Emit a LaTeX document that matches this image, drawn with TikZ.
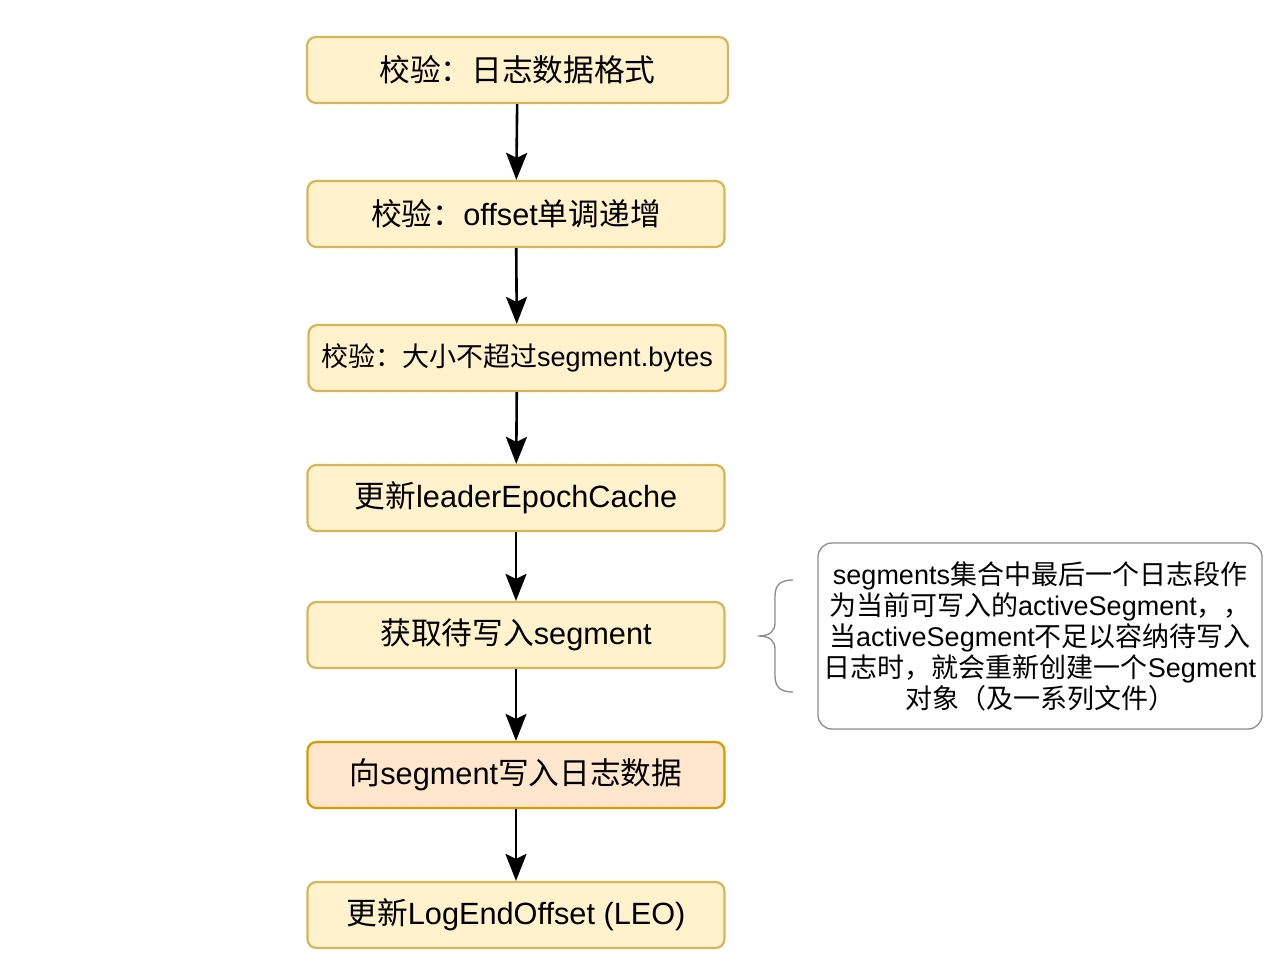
\documentclass[tikz,border=0pt]{standalone}
\usepackage{fontspec}
\setmainfont{Liberation Sans}
\newfontfamily\cjk{Noto Sans CJK SC}
\usepackage{xcolor}
\usetikzlibrary{arrows.meta,positioning}

\definecolor{stepfill}{HTML}{FFF2CC}
\definecolor{stepline}{HTML}{D6B656}
\definecolor{writefill}{HTML}{FFE6CC}
\definecolor{writeline}{HTML}{D79B00}
\definecolor{noteline}{HTML}{8C8C8C}

\begin{document}
\begin{tikzpicture}[x=1pt, y=-1pt,
    stepbox/.style={draw=stepline, fill=stepfill, line width=2.2pt, rounded corners=9pt,
        minimum width=417pt, minimum height=66pt, inner sep=0pt,
        font=\fontsize{30.7}{35}\selectfont},
    writebox/.style={stepbox, draw=writeline, fill=writefill},
    notebox/.style={draw=noteline, fill=white, line width=1.3pt, rounded corners=14pt,
        minimum width=444pt, minimum height=186pt, inner sep=0pt, align=center,
        font=\fontsize{27}{31}\selectfont},
    flow/.style={-{Stealth[length=27pt, width=21pt, inset=5pt]}, line width=2.6pt, black}]

    % canvas
    \fill[white] (0,0) rectangle (1280,979);
    \useasboundingbox (0,0) rectangle (1280,979);

    % steps
    \node[stepbox, minimum width=421pt] (fmt) at (517.5,70) {\cjk 校验：日志数据格式};
    \node[stepbox] (mono) at (516,214) {{\cjk 校验：}offset{\cjk 单调递增}};
    \node[stepbox, font=\fontsize{27}{31}\selectfont] (size) at (517,358) {{\cjk 校验：大小不超过}segment.bytes};
    \node[stepbox] (epoch) at (516,498) {{\cjk 更新}leaderEpochCache};
    \node[stepbox] (getseg) at (516,635) {{\cjk 获取待写入}segment};
    \node[writebox] (write) at (516,775) {{\cjk 向}segment{\cjk 写入日志数据}};
    \node[stepbox] (leo) at (516,915) {{\cjk 更新}LogEndOffset (LEO)};

    % arrows
    \draw[flow] (fmt) -- (mono);
    \draw[flow] (mono) -- (size);
    \draw[flow] (size) -- (epoch);
    \draw[flow] (epoch) -- (getseg);
    \draw[flow] (getseg) -- (write);
    \draw[flow] (write) -- (leo);

    % note
    \node[notebox] (note) at (1040,636) {segments{\cjk 集合中最后一个日志段作}\\{\cjk 为当前可写入的}activeSegment{\cjk ，，}\\{\cjk 当}activeSegment{\cjk 不足以容纳待写入}\\{\cjk 日志时，就会重新创建一个}Segment\\{\cjk 对象（及一系列文件）}};

    % brace
    \draw[noteline, line width=1.3pt] (793,580) .. controls (780,580) and (775,585) .. (775,597)
        -- (775,623) .. controls (775,632) and (769,636) .. (758,636)
        .. controls (769,636) and (775,640) .. (775,649)
        -- (775,675) .. controls (775,687) and (780,692) .. (793,692);
\end{tikzpicture}
\end{document}
